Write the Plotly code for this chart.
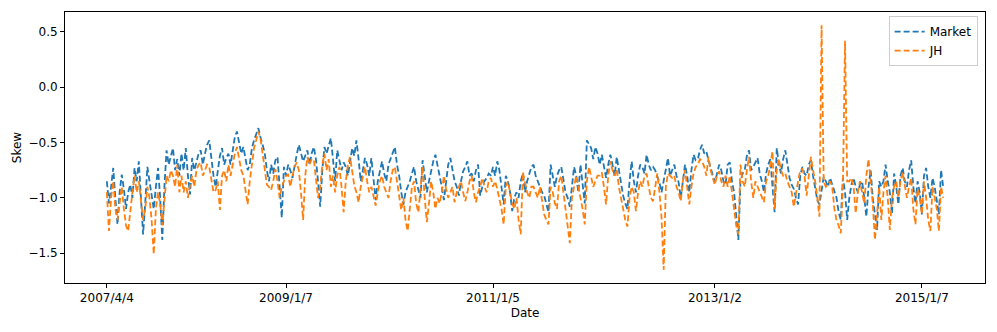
import plotly.graph_objects as go

# weekly skew readings
market = [
    -0.85, -1.05, -0.9, -0.73, -1.0, -1.24, -0.95, -0.79, -0.92, -1.1, -0.95, -0.88, -1.0, -0.73, -0.85, -0.67, -1.0, -1.33,
    -1.05, -0.72, -0.85, -1.0, -1.1, -0.9, -0.73, -1.0, -1.38, -0.9, -0.57, -0.7, -0.62, -0.55, -0.75, -0.65, -0.8, -0.6,
    -0.75, -0.55, -0.8, -0.97, -0.64, -0.75, -0.68, -0.6, -0.57, -0.7, -0.6, -0.52, -0.48, -0.65, -0.8, -0.90, -0.75, -0.62,
    -0.55, -0.7, -0.64, -0.6, -0.7, -0.55, -0.45, -0.40, -0.5, -0.6, -0.54, -0.65, -0.75, -0.70, -0.55, -0.48, -0.42, -0.37,
    -0.45, -0.52, -0.59, -0.75, -0.85, -0.7, -0.78, -0.66, -0.63, -0.9, -1.18, -0.72, -0.8, -0.7, -0.75, -0.82, -0.7, -0.61,
    -0.52, -0.6, -0.67, -0.62, -0.57, -0.7, -0.6, -0.54, -0.65, -0.85, -1.08, -0.75, -0.54, -0.6, -0.52, -0.46, -0.65, -0.85,
    -0.57, -0.67, -0.75, -0.68, -0.72, -0.8, -0.65, -0.55, -0.62, -0.48, -0.65, -0.85, -0.75, -0.64, -0.7, -0.8, -0.64, -0.85,
    -1.02, -0.85, -0.75, -0.67, -0.78, -0.85, -0.7, -0.65, -0.6, -0.54, -0.7, -0.8, -0.95, -1.06, -0.95, -0.9, -0.85, -0.78, -0.72,
    -0.85, -0.92, -1.0, -0.66, -0.8, -0.95, -0.85, -0.75, -0.67, -0.61, -0.7, -0.78, -0.9, -1.02, -0.85, -0.7, -0.64, -0.75,
    -0.85, -0.9, -0.98, -0.85, -0.76, -0.72, -0.67, -0.8, -0.78, -0.85, -0.75, -0.7, -0.98, -0.9, -0.85, -0.82, -0.78, -0.8, -0.72,
    -0.8, -0.67, -0.75, -0.9, -1.06, -0.8, -0.85, -0.95, -1.12, -1.0, -0.95, -1.0, -0.85, -0.78, -0.95, -0.85, -0.78, -0.72,
    -0.70, -0.8, -0.85, -0.9, -0.95, -0.98, -1.05, -1.13, -0.70, -0.8, -0.9, -0.8, -0.75, -0.72, -0.85, -0.95, -1.0, -1.08,
    -0.9, -0.72, -0.8, -0.95, -0.7, -0.85, -1.05, -0.48, -0.52, -0.55, -0.65, -0.54, -0.6, -0.7, -0.61, -0.7, -0.82, -0.7,
    -0.61, -0.7, -0.8, -0.63, -0.75, -0.9, -0.98, -1.05, -1.1, -0.85, -0.67, -0.85, -0.95, -0.8, -0.7, -0.72, -0.78, -0.61,
    -0.7, -0.75, -0.72, -0.75, -0.8, -0.86, -0.95, -0.85, -0.75, -0.64, -0.8, -0.75, -0.7, -0.8, -0.86, -1.0, -0.85, -0.7, -0.8,
    -0.95, -0.75, -0.61, -0.66, -0.65, -0.57, -0.52, -0.6, -0.58, -0.66, -0.72, -0.8, -0.86, -0.78, -0.7, -0.75, -0.85, -0.88, -0.7,
    -0.68, -0.85, -0.95, -1.2, -1.38, -0.85, -0.78, -0.75, -0.62, -0.57, -0.75, -0.72, -0.68, -0.64, -0.78, -0.85, -0.95, -0.78,
    -0.7, -0.65, -0.9, -1.13, -0.55, -0.7, -0.78, -0.65, -0.57, -0.7, -0.82, -0.88, -0.92, -1.0, -1.06, -0.8, -0.72, -0.78,
    -0.8, -0.7, -0.66, -0.8, -0.90, -1.02, -1.06, -0.95, -0.81, -0.85, -0.9, -0.82, -0.88, -0.95, -1.0, -1.13, -1.2, -0.82,
    -0.95, -1.2, -1.0, -0.88, -0.82, -0.9, -0.95, -0.88, -0.85, -1.0, -1.17, -0.9, -0.75, -1.0, -1.15, -1.29, -0.85, -0.9,
    -0.85, -0.7, -0.85, -0.95, -1.15, -0.78, -0.9, -1.06, -0.8, -0.73, -0.85, -0.9, -0.75, -0.66, -0.9, -1.05, -0.85, -0.95,
    -1.15, -0.8, -0.73, -0.9, -1.0, -0.82, -0.9, -1.05, -1.15, -0.75, -0.9,
]
jh = [
    -0.95, -1.30, -1.0, -0.85, -1.1, -1.2, -1.05, -0.9, -1.1, -1.25, -1.30, -1.1, -0.95, -0.8, -0.95, -0.85, -1.05, -1.2,
    -1.1, -0.9, -1.0, -1.2, -1.51, -1.1, -0.95, -1.05, -1.25, -1.0, -0.8, -0.85, -0.75, -0.8, -0.9, -0.70, -0.95, -0.8,
    -0.95, -0.85, -1.0, -0.88, -0.8, -0.9, -0.75, -0.7, -0.68, -0.8, -0.75, -0.7, -0.72, -0.85, -0.95, -0.93, -0.85, -1.11,
    -0.8, -0.75, -0.85, -0.7, -0.8, -0.7, -0.6, -0.54, -0.65, -0.75, -0.80, -0.95, -1.06, -0.85, -0.7, -0.55, -0.48, -0.40,
    -0.46, -0.6, -0.75, -0.88, -0.9, -0.93, -0.85, -0.74, -0.85, -1.0, -0.9, -0.85, -0.8, -0.79, -0.9, -0.8, -0.72, -0.68,
    -0.75, -0.95, -1.2, -0.8, -0.63, -0.7, -0.65, -0.65, -0.8, -1.0, -0.9, -0.7, -0.6, -0.75, -0.65, -0.9, -0.8, -0.95,
    -0.8, -0.72, -0.9, -1.13, -0.85, -0.7, -0.63, -0.75, -0.89, -0.95, -1.04, -0.9, -0.8, -0.72, -0.85, -0.95, -0.9, -1.0,
    -1.07, -0.95, -0.85, -0.8, -0.9, -0.95, -1.0, -0.85, -0.75, -0.72, -0.85, -0.95, -1.11, -1.0, -1.2, -1.3, -1.1, -0.9, -0.85,
    -1.05, -1.13, -0.95, -0.72, -1.0, -1.22, -1.05, -0.85, -0.95, -1.1, -1.0, -1.05, -0.95, -0.8, -0.92, -1.0, -0.95, -0.9,
    -1.04, -0.95, -0.9, -0.85, -0.95, -1.03, -0.95, -0.85, -0.8, -0.95, -1.04, -0.95, -0.9, -0.82, -0.9, -0.95, -0.85, -0.82, -0.9,
    -0.85, -0.92, -1.0, -1.1, -1.24, -0.9, -0.85, -0.95, -1.05, -1.1, -1.0, -1.2, -1.33, -0.77, -0.85, -0.95, -1.0, -0.9,
    -0.9, -0.95, -1.0, -0.9, -1.05, -1.15, -1.2, -1.24, -0.9, -0.95, -1.05, -1.1, -0.85, -0.8, -0.95, -1.1, -1.25, -1.41,
    -1.0, -0.9, -0.8, -0.9, -1.0, -1.1, -1.24, -0.85, -0.72, -0.8, -0.9, -0.85, -0.8, -0.8, -0.77, -0.9, -1.06, -0.8,
    -0.67, -0.75, -0.8, -0.74, -0.9, -1.0, -1.1, -1.2, -1.26, -1.0, -0.9, -0.95, -1.12, -0.95, -0.85, -0.9, -0.8, -0.78,
    -0.9, -1.0, -1.03, -0.9, -0.78, -0.95, -1.18, -1.65, -0.9, -0.78, -0.8, -0.82, -0.8, -0.9, -0.95, -1.03, -0.85, -0.75, -0.9,
    -1.06, -0.9, -0.78, -0.72, -0.7, -0.65, -0.67, -0.72, -0.8, -0.63, -0.75, -0.82, -0.88, -0.8, -0.76, -0.85, -0.9, -0.8, -0.9,
    -0.8, -0.95, -1.14, -1.25, -1.33, -0.7, -0.85, -0.9, -0.75, -0.63, -0.85, -1.0, -0.85, -0.9, -0.95, -1.0, -1.04, -0.85,
    -0.8, -0.7, -0.58, -1.1, -0.75, -0.65, -0.75, -0.8, -0.78, -0.85, -0.9, -0.95, -1.08, -0.95, -0.85, -0.75, -0.74, -0.8,
    -0.98, -0.8, -0.63, -0.75, -0.85, -1.0, -1.17, 0.56, -0.85, -0.9, -0.88, -0.85, -0.9, -1.1, -1.2, -1.25, -1.32, -0.9,
    0.42, -0.85, -0.85, -0.82, -0.9, -1.14, -0.95, -0.85, -0.95, -1.05, -0.8, -0.65, -0.85, -1.05, -1.38, -1.1, -0.9, -1.2,
    -0.95, -0.8, -1.0, -1.29, -1.0, -0.9, -0.85, -1.0, -0.85, -0.77, -0.9, -1.0, -0.9, -0.82, -1.1, -1.24, -0.92, -1.0,
    -1.15, -0.85, -1.0, -1.2, -1.3, -0.9, -1.0, -1.1, -1.3, -0.9, -1.0,
]
tick_pos = [0, 84, 181, 285, 382]
tick_labels = ["2007/4/4", "2009/1/7", "2011/1/5", "2013/1/2", "2015/1/7"]
y_ticks = [-1.5, -1.0, -0.5, 0.0, 0.5]
y_labels = ["\u22121.5", "\u22121.0", "\u22120.5", "0.0", "0.5"]

fig = go.Figure()
fig.add_trace(go.Scatter(x=list(range(len(market))), y=market, mode="lines", name="Market",
                         line=dict(color="#1f77b4", width=1.8, dash="6px,3px")))
fig.add_trace(go.Scatter(x=list(range(len(jh))), y=jh, mode="lines", name="JH",
                         line=dict(color="#ff7f0e", width=1.8, dash="6px,3px")))

n = len(market) - 1
axis_common = dict(showline=True, mirror=True, linecolor="black", linewidth=1, showgrid=False,
                   zeroline=False, ticks="outside", ticklen=4, tickcolor="black",
                   tickfont=dict(size=12, color="black"))
# the page body adds an 8px offset, so the figure is 8px smaller each way
fig.update_layout(
    width=989, height=324,
    margin=dict(l=57, r=12, t=4, b=49),
    paper_bgcolor="white", plot_bgcolor="white",
    font=dict(family="DejaVu Sans", color="black", size=12),
    xaxis=dict(range=[-0.05 * n, 1.05 * n], tickvals=tick_pos, ticktext=tick_labels, automargin=False,
               title=dict(text="Date", font=dict(size=12), standoff=4), **axis_common),
    yaxis=dict(range=[-1.77, 0.68], tickvals=y_ticks, ticktext=y_labels, automargin=False,
               title=dict(text="Skew", font=dict(size=12), standoff=4), **axis_common),
    legend=dict(x=0.992, y=0.985, xanchor="right", yanchor="top", bgcolor="rgba(255,255,255,0.8)",
                bordercolor="#cccccc", borderwidth=1, font=dict(size=12), tracegroupgap=0),
    showlegend=True,
)
fig.write_html("out.html")
